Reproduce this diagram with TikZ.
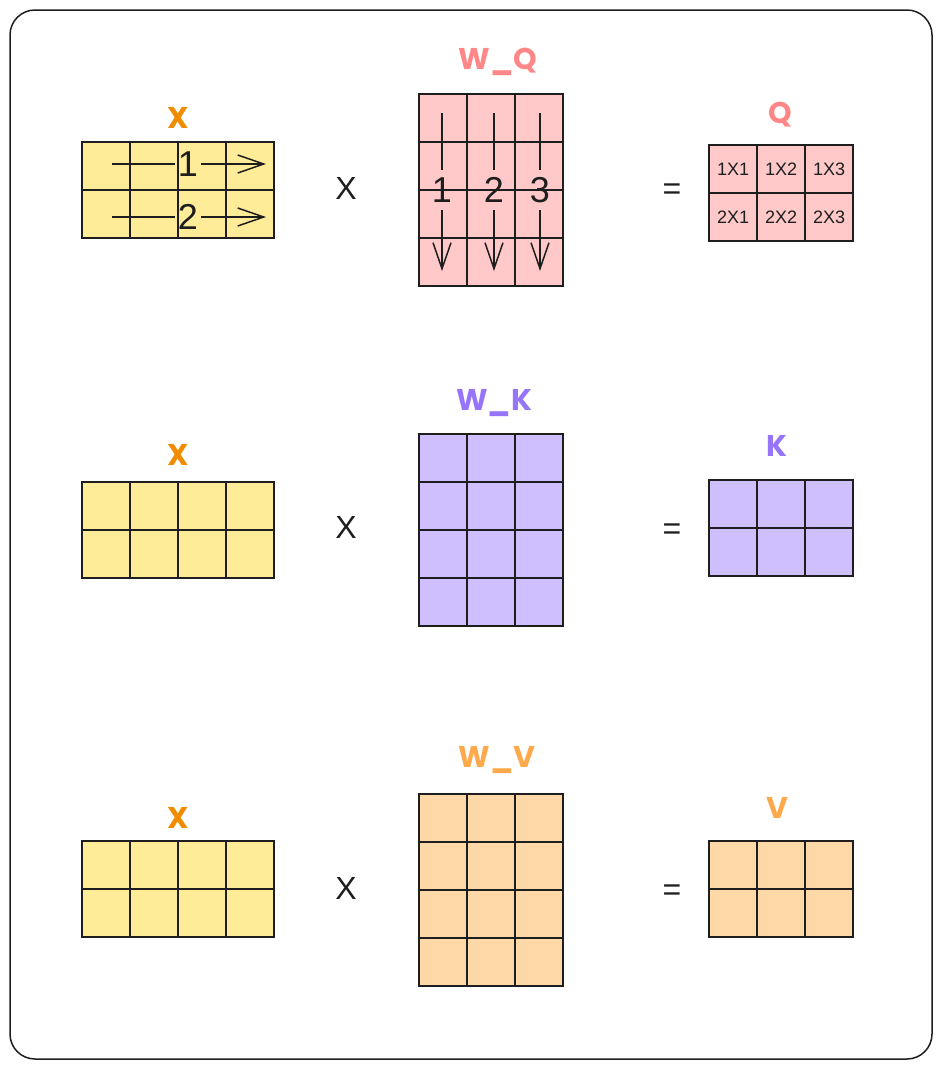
\documentclass[tikz,border=0pt]{standalone}
\usepackage{fontspec}
\setmainfont{Liberation Sans}
\newfontfamily\hand{Poppins}
\usetikzlibrary{arrows.meta}
\definecolor{cyel}{HTML}{FFEC99}
\definecolor{cpink}{HTML}{FFC9C9}
\definecolor{cpurp}{HTML}{D0BFFF}
\definecolor{corng}{HTML}{FFD8A8}
\definecolor{lx}{HTML}{F08C00}
\definecolor{lq}{HTML}{FF8787}
\definecolor{lk}{HTML}{9775FA}
\definecolor{lv}{HTML}{FFA94D}
\definecolor{ink}{HTML}{1E1E1E}
\tikzset{
  cell/.style={minimum width=48pt, minimum height=48pt, inner sep=0pt, anchor=north west},
  edge/.style={draw=ink, line width=2pt, line join=miter},
  lbl/.style={font=\hand\bfseries\fontsize{30}{32}\selectfont, inner sep=0pt},
  op/.style={font=\fontsize{32}{34}\selectfont, text=ink, inner sep=0pt},
  num/.style={font=\fontsize{36}{38}\selectfont, text=ink, inner xsep=3pt, inner ysep=7pt},
  small/.style={font=\fontsize{18}{20}\selectfont, text=ink},
  arr/.style={draw=ink, line width=1.5pt},
  tipx/.style={-{Straight Barb[length=26pt,width=18pt,line width=1.5pt]}},
}
\begin{document}
\begin{tikzpicture}[x=1pt,y=-1pt]
\useasboundingbox (0,0) rectangle (942,1069);
\draw[draw=ink, line width=1.5pt, rounded corners=25pt] (10,10) rectangle (932,1059);

% ---------- matrices: fills ----------
\foreach \nm/\y in {xa/142, xb/482, xc/841}{
  \foreach \r in {0,1}{
    \foreach \c in {0,...,3}{
      \node[cell, fill=cyel] (\nm-\r-\c) at (82+48*\c, \y+48*\r) {};
    }
  }
}
\foreach \nm/\y/\col in {wq/94/cpink, wk/434/cpurp, wv/794/corng}{
  \foreach \r in {0,...,3}{
    \foreach \c in {0,...,2}{
      \node[cell, fill=\col] (\nm-\r-\c) at (419+48*\c, \y+48*\r) {};
    }
  }
}
\foreach \nm/\y/\col in {q/145/cpink, k/480/cpurp, v/841/corng}{
  \foreach \r in {0,1}{
    \foreach \c in {0,...,2}{
      \node[cell, fill=\col] (\nm-\r-\c) at (709+48*\c, \y+48*\r) {};
    }
  }
}
% ---------- matrices: borders ----------
\foreach \nm in {xa,xb,xc}{
  \draw[edge] (\nm-0-0.north west) rectangle (\nm-1-3.south east);
  \foreach \c in {0,1,2}{ \draw[edge] (\nm-0-\c.north east) -- (\nm-1-\c.south east); }
  \draw[edge] (\nm-0-0.south west) -- (\nm-0-3.south east);
}
\foreach \nm in {wq,wk,wv}{
  \draw[edge] (\nm-0-0.north west) rectangle (\nm-3-2.south east);
  \foreach \c in {0,1}{ \draw[edge] (\nm-0-\c.north east) -- (\nm-3-\c.south east); }
  \foreach \r in {0,1,2}{ \draw[edge] (\nm-\r-0.south west) -- (\nm-\r-2.south east); }
}
\foreach \nm in {q,k,v}{
  \draw[edge] (\nm-0-0.north west) rectangle (\nm-1-2.south east);
  \foreach \c in {0,1}{ \draw[edge] (\nm-0-\c.north east) -- (\nm-1-\c.south east); }
  \draw[edge] (\nm-0-0.south west) -- (\nm-0-2.south east);
}
% Q entries
\foreach \r in {0,1}{
  \foreach \c in {0,...,2}{
    \pgfmathtruncatemacro{\rr}{\r+1}
    \pgfmathtruncatemacro{\cc}{\c+1}
    \node[small] (qt-\r-\c) at (q-\r-\c.center) {\rr X\cc};
  }
}

% ---------- labels ----------
\node[lbl, text=lx] (lxa) at (178,118) {X};
\node[lbl, text=lx] (lxb) at (178,455) {X};
\node[lbl, text=lx] (lxc) at (178,818) {X};
\node[lbl, text=lq] (lwq) at (498,62) {W\_Q};
\node[lbl, text=lk] (lwk) at (494,403) {W\_K};
\node[lbl, text=lv] (lwv) at (497,760) {W\_V};
\node[lbl, text=lq] (lq) at (780,115) {Q};
\node[lbl, text=lk] (lk) at (777,446) {K};
\node[lbl, text=lv] (lv) at (777,808) {V};

% ---------- operators ----------
\node[op] (ma) at (346,188) {X};
\node[op] (mb) at (346,527) {X};
\node[op] (mc) at (346,888) {X};
\node[op] (ea) at (672,192) {=};
\node[op] (eb) at (672,532) {=};
\node[op] (ec) at (672,893) {=};

% ---------- row arrows in X ----------
\node[num] (r1) at (188,164) {1};
\node[num] (r2) at (188,217) {2};
\coordinate (r1s) at (112,164);
\coordinate (r1e) at (266,164);
\coordinate (r2s) at (112,217);
\coordinate (r2e) at (266,217);
\draw[arr] (r1s) -- (r1.west);
\draw[arr, tipx] (r1.east) -- (r1e);
\draw[arr] (r2s) -- (r2.west);
\draw[arr, tipx] (r2.east) -- (r2e);

% ---------- column arrows in W_Q ----------
\foreach \i/\x in {1/442, 2/494, 3/540}{
  \node[num] (c\i) at (\x,190) {\i};
  \coordinate (c\i s) at (\x,113);
  \coordinate (c\i e) at (\x,271);
  \draw[arr] (c\i s) -- (c\i.north);
  \draw[arr, tipx] (c\i.south) -- (c\i e);
}
\end{tikzpicture}
\end{document}
